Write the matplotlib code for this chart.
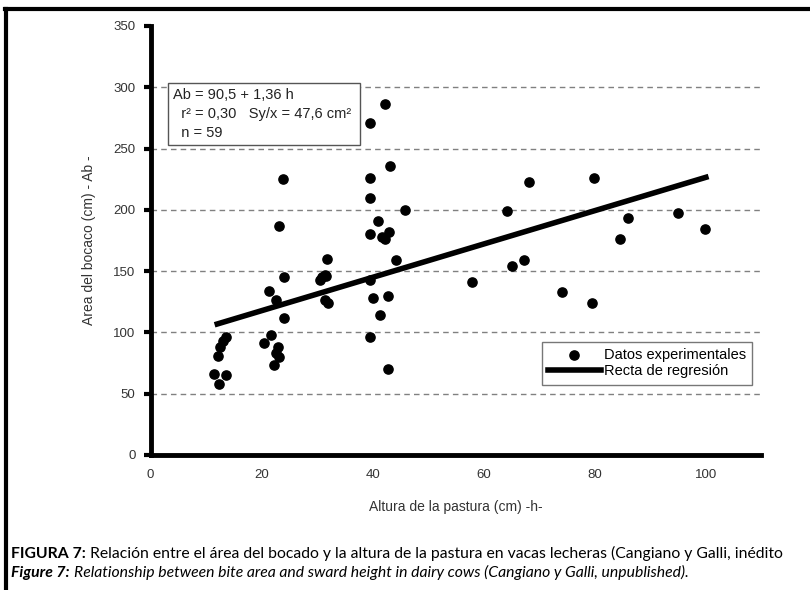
import numpy as np
import matplotlib
matplotlib.use("Agg")
import matplotlib.pyplot as plt
from matplotlib.lines import Line2D

altura = [
    11.4, 13.6, 12.3, 12.2, 12.5, 13.0, 13.5,
    23.8, 23.2, 24.1, 21.4, 22.5, 24.1, 21.7, 20.4, 22.9, 22.6, 23.2, 22.3,
    31.7, 31.4, 30.9, 30.5, 31.6, 31.4, 31.9,
    42.2, 39.5, 43.1, 39.5, 39.5, 45.8, 41.0, 39.5, 41.6, 42.9, 42.2,
    44.1, 39.5, 40.0, 42.8, 41.3, 39.5, 42.8,
    68.1, 64.2, 79.9, 86.0, 95.0, 84.6, 99.9, 67.2, 65.1, 57.9, 74.1, 79.4,
]
area = [
    66, 65, 58, 81, 88, 93, 96,
    225, 187, 145, 134, 126, 112, 98, 91, 88, 83, 80, 73,
    160, 147, 145, 143, 146, 126, 124,
    286, 271, 236, 226, 210, 200, 191, 180, 178, 182, 176,
    159, 143, 128, 130, 114, 96, 70,
    223, 199, 226, 193, 197, 176, 184, 159, 154, 141, 133, 124,
]

# Regression: Ab = 90.5 + 1.36 h
intercept = 90.5
slope = 1.36
h_range = [12, 100]

x_ticks = [0, 20, 40, 60, 80, 100]
y_ticks = [0, 50, 100, 150, 200, 250, 300, 350]

plt.rcParams["font.family"] = ["Liberation Sans", "DejaVu Sans"]
cap_font = ["Lato", "DejaVu Sans"]

fig = plt.figure(figsize=(8.1, 5.9), dpi=100)
ax = fig.add_axes([0.186, 0.229, 0.754, 0.727])

ax.scatter(altura, area, s=44, color="black", zorder=3,
           label="Datos experimentales")
h = np.array(h_range)
ax.plot(h, intercept + slope * h, color="black", linewidth=4, zorder=4,
        label="Recta de regresión")

ax.set_xlim(0, 110)
ax.set_ylim(0, 350)
ax.set_xticks(x_ticks)
ax.set_yticks(y_ticks)
ax.tick_params(axis="x", length=0, pad=10, labelsize=9.5, colors="#333333")
ax.tick_params(axis="y", length=5, width=3, direction="out", pad=6,
               labelsize=9.5, colors="#333333")
ax.tick_params(axis="y", color="black")

for s in ["top", "right"]:
    ax.spines[s].set_visible(False)
for s in ["left", "bottom"]:
    ax.spines[s].set_linewidth(3.5)

for yv in y_ticks[1:-1]:
    ax.axhline(yv, color="#808080", linestyle=(0, (4, 3)), linewidth=1,
               zorder=1)

ax.set_xlabel("Altura de la pastura (cm) -h-", fontsize=10, labelpad=14,
              color="#333333")
ax.set_ylabel("Area del bocaco (cm) - Ab -", fontsize=10, labelpad=12,
              color="#333333")

# equation box
ax.text(4.0, 299.5,
        "Ab = 90,5 + 1,36 h\n  r² = 0,30   Sy/x = 47,6 cm² \n  n = 59",
        fontsize=10.5, va="top", ha="left", linespacing=1.45, color="#222222",
        bbox=dict(boxstyle="square,pad=0.35", facecolor="white",
                  edgecolor="#555555", linewidth=1), zorder=5)

leg = ax.legend(loc="lower right", bbox_to_anchor=(0.985, 0.163),
                fontsize=10.5, frameon=True, fancybox=False,
                edgecolor="#555555", handlelength=3.6, borderpad=0.45,
                labelspacing=0.15, handletextpad=0.2, borderaxespad=0)
leg.get_frame().set_linewidth(1)

# caption
t1 = fig.text(0.014, 0.054, "FIGURA 7:", fontsize=11.3, fontweight="bold",
              family=cap_font)
ax.annotate("Relación entre el área del bocado y la altura de la pastura en "
            "vacas lecheras (Cangiano y Galli, inédito",
            xy=(1, 0), xycoords=t1, xytext=(3, 0), textcoords="offset points",
            fontsize=11.3, family=cap_font, va="bottom", annotation_clip=False)
t2 = fig.text(0.014, 0.022, "Figure 7:", fontsize=11.3, fontweight="bold",
              style="italic", family=cap_font)
ax.annotate("Relationship between bite area and sward height in dairy cows "
            "(Cangiano y Galli, unpublished).",
            xy=(1, 0), xycoords=t2, xytext=(3, 0), textcoords="offset points",
            fontsize=11.3, style="italic", family=cap_font, va="bottom",
            annotation_clip=False)

# page frame
fig.add_artist(Line2D([0.006, 1.0], [0.985, 0.985], color="black",
                      linewidth=3, transform=fig.transFigure))
fig.add_artist(Line2D([0.007, 0.007], [0.0, 0.985], color="black",
                      linewidth=3, transform=fig.transFigure))

fig.savefig("out.png", dpi=100)
